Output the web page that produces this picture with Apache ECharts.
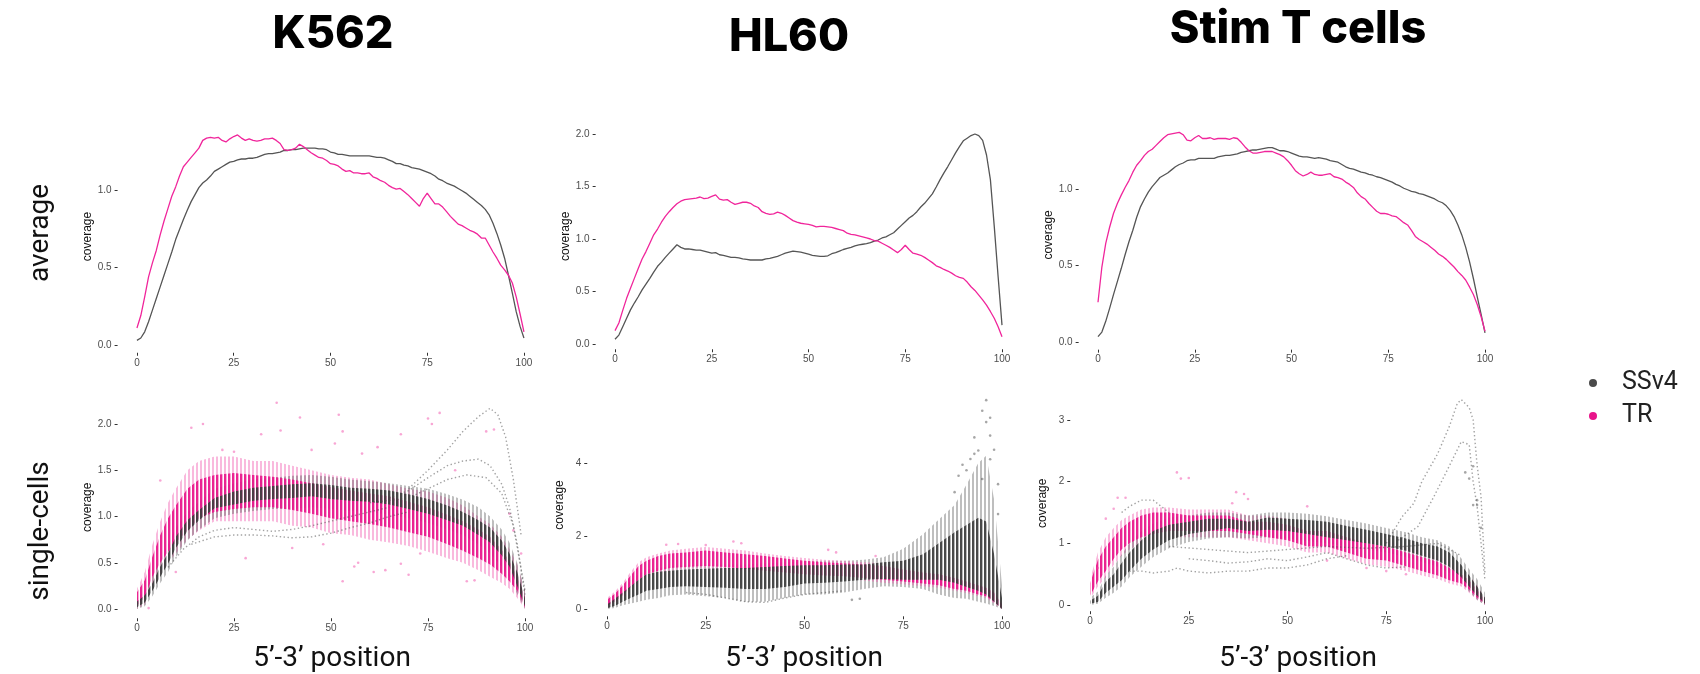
<!DOCTYPE html>
<html>
<head>
<meta charset="utf-8">
<script src="https://cdn.jsdelivr.net/npm/echarts@6/dist/echarts.min.js"></script>
<style>
  html, body { margin: 0; padding: 0; background: #fff; }
  #chart { width: 1700px; height: 674px; }
</style>
</head>
<body>
<div id="chart"></div>
<script>
// average coverage, one value per position 0..100
const k562AvgSS = [
  0.03,0.045,0.085,0.15,0.225,0.30,0.375,0.45,0.525,0.60,
  0.68,0.745,0.81,0.87,0.925,0.97,1.015,1.045,1.065,1.09,
  1.12,1.135,1.15,1.165,1.18,1.185,1.195,1.20,1.20,1.205,
  1.205,1.21,1.22,1.23,1.235,1.235,1.24,1.245,1.255,1.255,
  1.26,1.26,1.265,1.27,1.27,1.27,1.27,1.265,1.265,1.26,
  1.245,1.24,1.23,1.23,1.225,1.22,1.22,1.22,1.22,1.22,
  1.22,1.215,1.21,1.21,1.205,1.195,1.185,1.17,1.17,1.16,
  1.155,1.145,1.14,1.135,1.125,1.115,1.105,1.09,1.07,1.06,
  1.045,1.035,1.025,1.01,0.995,0.98,0.96,0.94,0.92,0.90,
  0.875,0.84,0.785,0.72,0.645,0.56,0.45,0.335,0.215,0.12,
  0.045];
const k562AvgTR = [
  0.11,0.19,0.31,0.44,0.53,0.61,0.71,0.80,0.88,0.96,
  1.02,1.09,1.15,1.18,1.21,1.24,1.27,1.32,1.335,1.34,
  1.335,1.34,1.32,1.31,1.33,1.345,1.355,1.335,1.32,1.33,
  1.32,1.315,1.32,1.33,1.33,1.335,1.32,1.30,1.26,1.255,
  1.26,1.27,1.295,1.28,1.26,1.24,1.225,1.21,1.205,1.19,
  1.17,1.165,1.155,1.135,1.12,1.125,1.11,1.11,1.105,1.105,
  1.11,1.085,1.075,1.06,1.05,1.03,1.015,1.005,1.01,0.99,
  0.97,0.945,0.92,0.895,0.945,0.98,0.945,0.91,0.91,0.89,
  0.86,0.83,0.805,0.78,0.77,0.755,0.74,0.73,0.715,0.69,
  0.69,0.645,0.60,0.56,0.515,0.485,0.45,0.40,0.31,0.20,
  0.085];
const hl60AvgSS = [
  0.045,0.085,0.165,0.245,0.325,0.39,0.45,0.515,0.57,0.625,
  0.685,0.74,0.78,0.825,0.865,0.905,0.945,0.92,0.905,0.905,
  0.90,0.895,0.895,0.885,0.875,0.865,0.87,0.85,0.845,0.835,
  0.825,0.825,0.82,0.81,0.805,0.80,0.80,0.80,0.80,0.81,
  0.815,0.825,0.835,0.85,0.865,0.875,0.885,0.88,0.875,0.865,
  0.855,0.845,0.84,0.835,0.835,0.84,0.86,0.87,0.885,0.90,
  0.91,0.92,0.935,0.945,0.95,0.955,0.965,0.98,0.99,1.01,
  1.02,1.04,1.06,1.095,1.13,1.165,1.20,1.225,1.26,1.305,
  1.34,1.385,1.43,1.495,1.565,1.63,1.69,1.755,1.82,1.88,
  1.935,1.96,1.985,2.00,1.985,1.94,1.80,1.565,1.12,0.64,
  0.18];
const hl60AvgTR = [
  0.127,0.20,0.32,0.435,0.53,0.625,0.72,0.81,0.88,0.96,
  1.04,1.095,1.16,1.215,1.26,1.30,1.335,1.36,1.375,1.38,
  1.385,1.39,1.40,1.385,1.39,1.405,1.42,1.38,1.37,1.375,
  1.35,1.33,1.34,1.35,1.35,1.34,1.315,1.30,1.26,1.245,
  1.235,1.24,1.255,1.245,1.225,1.20,1.175,1.16,1.15,1.145,
  1.14,1.13,1.115,1.12,1.12,1.115,1.11,1.10,1.09,1.08,
  1.055,1.045,1.04,1.03,1.02,1.01,1.00,0.985,0.98,0.96,
  0.94,0.92,0.895,0.87,0.90,0.94,0.90,0.865,0.855,0.845,
  0.825,0.80,0.775,0.745,0.73,0.71,0.695,0.675,0.65,0.635,
  0.625,0.59,0.545,0.51,0.465,0.42,0.37,0.31,0.245,0.165,
  0.07];
const stimAvgSS = [
  0.035,0.065,0.135,0.22,0.31,0.395,0.48,0.57,0.655,0.73,
  0.815,0.885,0.935,0.98,1.015,1.045,1.075,1.09,1.105,1.125,
  1.145,1.16,1.17,1.185,1.19,1.19,1.20,1.20,1.20,1.20,
  1.20,1.21,1.215,1.22,1.22,1.225,1.23,1.24,1.245,1.25,
  1.255,1.255,1.26,1.265,1.27,1.27,1.26,1.25,1.25,1.245,
  1.235,1.225,1.215,1.21,1.21,1.205,1.20,1.205,1.20,1.195,
  1.185,1.18,1.175,1.16,1.145,1.135,1.13,1.12,1.11,1.105,
  1.095,1.09,1.08,1.075,1.065,1.055,1.045,1.03,1.02,1.005,
  0.995,0.985,0.98,0.97,0.965,0.955,0.945,0.935,0.92,0.91,
  0.89,0.86,0.82,0.765,0.70,0.62,0.525,0.415,0.295,0.18,
  0.06];
const stimAvgTR = [
  0.26,0.49,0.645,0.75,0.84,0.905,0.96,1.01,1.055,1.11,
  1.155,1.185,1.22,1.245,1.26,1.285,1.31,1.335,1.355,1.36,
  1.365,1.37,1.355,1.32,1.315,1.335,1.35,1.33,1.33,1.335,
  1.325,1.33,1.33,1.33,1.325,1.335,1.33,1.305,1.275,1.25,
  1.235,1.235,1.24,1.245,1.245,1.245,1.235,1.225,1.21,1.185,
  1.155,1.12,1.10,1.085,1.095,1.11,1.095,1.09,1.09,1.095,
  1.10,1.08,1.075,1.065,1.045,1.03,1.01,0.975,0.95,0.935,
  0.905,0.88,0.855,0.84,0.84,0.835,0.825,0.82,0.80,0.78,
  0.765,0.73,0.69,0.67,0.655,0.64,0.62,0.60,0.575,0.56,
  0.54,0.515,0.49,0.46,0.435,0.405,0.36,0.31,0.245,0.165,
  0.07];

// single-cell spread: positions where the band edges were read
const bandPos = [0,2,4,6,8,10,13,16,20,25,30,35,40,45,50,55,60,65,70,75,80,84,88,91,94,96,98,100];

const k562SsCoreLo = [0.02,0.07,0.2,0.35,0.49,0.66,0.84,0.96,1.09,1.13,1.17,1.19,1.2,1.22,1.19,1.17,1.16,1.13,1.08,1.03,0.96,0.9,0.8,0.72,0.58,0.46,0.25,0.03];
const k562SsCoreHi = [0.08,0.15,0.28,0.46,0.6,0.78,0.96,1.07,1.2,1.27,1.31,1.33,1.35,1.36,1.34,1.31,1.3,1.28,1.24,1.19,1.12,1.05,0.96,0.88,0.74,0.6,0.4,0.12];
const k562SsOutLo = [0.0,0.03,0.14,0.28,0.4,0.56,0.74,0.86,0.98,1.03,1.06,1.08,1.08,1.1,1.08,1.06,1.05,1.02,0.98,0.93,0.86,0.8,0.7,0.6,0.46,0.34,0.16,0.0];
const k562SsOutHi = [0.12,0.2,0.35,0.55,0.7,0.88,1.05,1.16,1.3,1.36,1.4,1.42,1.44,1.45,1.43,1.4,1.38,1.36,1.33,1.3,1.24,1.18,1.1,1.0,0.86,0.72,0.5,0.2];
const k562TrCoreLo = [0.03,0.13,0.35,0.5,0.62,0.72,0.85,0.98,1.05,1.08,1.1,1.1,1.07,1.03,0.98,0.95,0.92,0.88,0.83,0.78,0.7,0.63,0.55,0.48,0.38,0.3,0.2,0.02];
const k562TrCoreHi = [0.18,0.31,0.57,0.8,0.98,1.12,1.3,1.4,1.45,1.47,1.45,1.43,1.4,1.36,1.32,1.28,1.25,1.22,1.16,1.1,1.02,0.95,0.86,0.78,0.64,0.52,0.35,0.12];
const k562TrOutLo = [0.0,0.05,0.25,0.38,0.5,0.6,0.75,0.85,0.95,0.95,0.95,0.95,0.9,0.88,0.82,0.8,0.75,0.72,0.68,0.62,0.55,0.5,0.42,0.35,0.28,0.22,0.12,0.0];
const k562TrOutHi = [0.22,0.4,0.7,0.95,1.15,1.3,1.5,1.6,1.65,1.65,1.6,1.6,1.55,1.5,1.45,1.42,1.4,1.35,1.3,1.27,1.2,1.12,1.0,0.92,0.78,0.65,0.48,0.2];

const hl60SsCoreLo = [0.02,0.08,0.2,0.3,0.4,0.5,0.55,0.6,0.62,0.6,0.58,0.55,0.55,0.6,0.7,0.72,0.75,0.8,0.82,0.8,0.8,0.8,0.72,0.6,0.5,0.4,0.2,0.0];
const hl60SsCoreHi = [0.12,0.28,0.45,0.62,0.8,0.95,1.02,1.05,1.08,1.1,1.12,1.12,1.15,1.18,1.2,1.2,1.22,1.22,1.28,1.32,1.5,1.8,2.1,2.3,2.5,2.4,1.5,0.3];
const hl60SsOutLo = [0.0,0.03,0.1,0.15,0.2,0.25,0.3,0.38,0.4,0.35,0.3,0.2,0.2,0.3,0.4,0.4,0.45,0.55,0.62,0.6,0.55,0.4,0.3,0.28,0.2,0.15,0.08,0.0];
const hl60SsOutHi = [0.2,0.38,0.58,0.78,0.95,1.08,1.12,1.18,1.2,1.22,1.22,1.22,1.25,1.28,1.3,1.32,1.32,1.35,1.42,1.65,2.05,2.45,2.85,3.4,4.0,4.2,3.0,0.65];
const hl60TrCoreLo = [0.08,0.2,0.38,0.6,0.8,0.95,1.05,1.12,1.15,1.18,1.15,1.1,1.05,1.0,0.95,0.92,0.9,0.85,0.8,0.75,0.7,0.65,0.55,0.5,0.4,0.35,0.2,0.02];
const hl60TrCoreHi = [0.25,0.42,0.65,0.92,1.18,1.32,1.45,1.52,1.55,1.6,1.55,1.5,1.45,1.38,1.32,1.28,1.25,1.22,1.18,1.08,1.0,0.95,0.85,0.75,0.65,0.58,0.45,0.12];
const hl60TrOutLo = [0.03,0.15,0.3,0.5,0.7,0.85,0.98,1.05,1.1,1.12,1.08,1.02,0.98,0.92,0.88,0.85,0.82,0.78,0.72,0.68,0.62,0.58,0.5,0.44,0.35,0.3,0.15,0.0];
const hl60TrOutHi = [0.3,0.48,0.72,1.02,1.28,1.42,1.52,1.6,1.65,1.7,1.65,1.6,1.52,1.45,1.4,1.35,1.32,1.28,1.25,1.15,1.05,1.0,0.9,0.8,0.7,0.62,0.5,0.15];

const stimSsCoreLo = [0.02,0.05,0.2,0.3,0.4,0.55,0.75,0.9,1.05,1.15,1.2,1.25,1.2,1.22,1.2,1.15,1.1,1.05,1.0,0.95,0.88,0.8,0.72,0.62,0.45,0.3,0.15,0.02];
const stimSsCoreHi = [0.07,0.15,0.38,0.5,0.68,0.85,1.05,1.2,1.3,1.35,1.4,1.4,1.35,1.42,1.4,1.38,1.35,1.28,1.22,1.15,1.08,1.0,0.95,0.85,0.65,0.48,0.3,0.12];
const stimSsOutLo = [0.0,0.02,0.12,0.2,0.3,0.45,0.62,0.78,0.92,1.02,1.08,1.1,1.08,1.1,1.08,1.04,1.0,0.95,0.9,0.85,0.78,0.7,0.62,0.52,0.36,0.22,0.08,0.0];
const stimSsOutHi = [0.12,0.22,0.48,0.62,0.82,1.0,1.2,1.32,1.42,1.45,1.5,1.5,1.45,1.5,1.5,1.48,1.44,1.38,1.32,1.25,1.18,1.1,1.05,0.95,0.76,0.58,0.42,0.2];
const stimTrCoreLo = [0.15,0.38,0.55,0.75,0.9,1.0,1.1,1.15,1.2,1.2,1.2,1.2,1.15,1.1,1.05,0.95,0.95,0.85,0.75,0.72,0.63,0.55,0.48,0.4,0.35,0.25,0.12,0.02];
const stimTrCoreHi = [0.35,0.73,0.95,1.1,1.25,1.35,1.45,1.5,1.5,1.45,1.45,1.45,1.35,1.35,1.3,1.2,1.2,1.1,1.0,0.95,0.85,0.78,0.7,0.6,0.5,0.4,0.25,0.08];
const stimTrOutLo = [0.1,0.3,0.45,0.65,0.8,0.9,1.0,1.05,1.1,1.1,1.1,1.1,1.05,1.0,0.95,0.85,0.85,0.75,0.66,0.62,0.55,0.48,0.42,0.35,0.3,0.2,0.08,0.0];
const stimTrOutHi = [0.42,0.85,1.1,1.25,1.38,1.45,1.55,1.58,1.58,1.55,1.55,1.55,1.45,1.45,1.4,1.3,1.3,1.2,1.1,1.05,0.95,0.88,0.8,0.7,0.58,0.48,0.32,0.12];

// individual off-trend SSv4 cells, [position, coverage]
const k562SsCells = [
  [[8,0.45],[12,0.65],[16,0.78],[20,0.85],[25,0.88],[30,0.86],[35,0.84],[40,0.86],[45,0.9],[50,0.95],[55,1.0],[60,1.05],[65,1.1]],
  [[14,0.7],[20,0.78],[25,0.8],[30,0.8],[35,0.79],[40,0.77],[45,0.78],[50,0.82],[55,0.88],[60,0.93],[65,1.0],[70,1.05]],
  [[65,1.2],[70,1.28],[75,1.42],[80,1.55],[84,1.6],[88,1.62],[91,1.55],[94,1.35],[96,1.1],[98,0.7],[100,0.15]],
  [[70,1.3],[75,1.5],[80,1.72],[84,1.92],[88,2.08],[91,2.17],[93,2.1],[95,1.86],[97,1.4],[99,0.8]],
  [[60,1.15],[70,1.2],[75,1.3],[80,1.4],[85,1.45],[90,1.42],[94,1.25],[97,0.9],[100,0.2]]
];
const hl60SsCells = [
  [[20,0.45],[25,0.4],[30,0.3],[35,0.2],[40,0.18],[45,0.3],[50,0.4],[55,0.45],[60,0.5]]
];
const stimSsCells = [
  [[10,0.55],[13,0.55],[16,0.52],[20,0.55],[22,0.6],[25,0.55],[30,0.52],[35,0.55],[40,0.55],[45,0.6],[50,0.6],[55,0.65],[60,0.75],[65,0.8]],
  [[25,0.75],[30,0.72],[35,0.68],[40,0.7],[45,0.75],[50,0.72],[55,0.78],[60,0.85],[65,0.75],[70,0.65],[75,0.6],[80,0.62]],
  [[20,0.95],[30,0.9],[40,0.85],[50,0.9],[60,0.95],[70,0.92],[80,0.95],[88,1.0],[94,0.8]],
  [[75,1.0],[79,1.43],[82,1.65],[84,2.0],[88,2.45],[91,2.9],[93,3.27],[94,3.33],[96,3.2],[97,3.0],[98,2.27],[99,1.75],[100,0.5]],
  [[78,1.05],[83,1.27],[87,1.75],[90,2.13],[94,2.65],[96,2.6],[97,2.0],[98,1.6],[100,0.4]],
  [[8,1.5],[10,1.6],[13,1.7],[16,1.7],[18,1.6],[20,1.5]]
];

// stray points
const k562TrStray = [[36,2.23],[17,2.0],[14,1.96],[42,2.07],[52,2.1],[32,1.89],[37,1.93],[75,2.06],[78,2.12],[76,2.0],[68,1.89],[53,1.92],[6,1.39],[28,0.55],[53,0.3],[56,0.46],[61,0.4],[64,0.42],[68,0.49],[70,0.37],[85,0.3],[87,0.31],[10,0.4],[3,0.01],[92,1.94],[90,1.92],[96,1.03],[97,0.85],[99,0.6],[51,1.79],[82,1.5],[40,0.66],[45,1.72],[58,1.68],[62,1.75],[22,1.72],[25,1.7],[48,0.7],[57,0.5],[73,0.6]];
const hl60TrStray = [[15,1.76],[18,1.78],[32,1.85],[34,1.8],[56,1.62],[25,1.75],[58,1.55],[68,1.45]];
const hl60SsStray = [[96,5.72],[95,5.43],[97,5.24],[96,5.12],[97,4.75],[93,4.7],[94,4.34],[98,4.36],[92,4.11],[90,3.95],[89,3.65],[99,3.42],[97,4.1],[95,3.56],[91,3.8],[93,4.25],[88,3.2],[99,2.6],[62,0.25],[64,0.28]];
const stimTrStray = [[22,2.15],[23,2.05],[25,2.06],[37,1.83],[39,1.8],[40,1.72],[7,1.74],[9,1.74],[55,1.6],[6,1.56],[4,1.4],[2,0.6],[36,1.65],[60,0.72],[70,0.6],[75,0.55],[80,0.5]];
const stimSsStray = [[97,1.62],[98,1.62],[97,2.25],[99,1.25],[98,1.7],[96,2.05],[95,2.15]];

const xTicks = [0, 25, 50, 75, 100];
const panelTitles = ['K562', 'HL60', 'Stim T cells'];

const GREY = '#555555';
const PINK = '#f0259b';

function pattern(color, w, h, rw, rh) {
  const c = document.createElement('canvas');
  c.width = w; c.height = h;
  const ctx = c.getContext('2d');
  ctx.fillStyle = color;
  ctx.fillRect(0, 0, rw, rh);
  return { image: c, repeat: 'repeat' };
}
const greyCoreFill = pattern('rgba(62,62,62,0.92)', 4, 2, 2.4, 2);
const greyOutFill = pattern('rgba(75,75,75,0.36)', 4, 2, 2, 2);
const pinkCoreFill = pattern('rgba(232,20,138,0.9)', 4, 2, 2.4, 2);
const pinkOutFill = pattern('rgba(240,80,170,0.4)', 4, 2, 2, 2);

// pixel layout of the six panels
const grids = [
  { left: 117.6, top: 120.25, width: 425.7, height: 232.5 },
  { left: 595.65, top: 123.5, width: 425.7, height: 225.75 },
  { left: 1078.65, top: 120.15, width: 425.7, height: 229.5 },
  { left: 117.6, top: 396.25, width: 426.8, height: 222 },
  { left: 587.25, top: 393.6, width: 434.5, height: 222.7 },
  { left: 1070.25, top: 395.3, width: 434.5, height: 215.9 }
];
const yRanges = [[-0.05, 1.45], [-0.05, 2.1], [-0.05, 1.45], [-0.1, 2.3], [-0.2, 5.9], [-0.1, 3.4]];
const yTicks = [[0, 0.5, 1], [0, 0.5, 1, 1.5, 2], [0, 0.5, 1], [0, 0.5, 1, 1.5, 2], [0, 2, 4], [0, 1, 2, 3]];
const yDigits = [1, 1, 1, 1, 0, 0];

const tickFont = { color: '#4d4d4d', fontSize: 10, fontFamily: 'Liberation Sans, Arial' };

const xAxis = grids.map((g, i) => ({
  type: 'value', gridIndex: i, min: -5, max: 105,
  axisLine: { show: false, onZero: false }, splitLine: { show: false },
  axisTick: { show: true, customValues: xTicks, length: 3, lineStyle: { color: '#333', width: 1 } },
  axisLabel: { customValues: xTicks, margin: 5, ...tickFont }
}));
const yAxis = grids.map((g, i) => ({
  type: 'value', gridIndex: i, min: yRanges[i][0], max: yRanges[i][1],
  name: 'coverage', nameLocation: 'middle', nameGap: 22,
  nameTextStyle: { color: '#111', fontSize: 12, fontFamily: 'Liberation Sans, Arial' },
  axisLine: { show: false, onZero: false }, splitLine: { show: false },
  axisTick: { show: true, customValues: yTicks[i], length: 3, lineStyle: { color: '#333', width: 1 } },
  axisLabel: { customValues: yTicks[i], margin: 6, formatter: v => v.toFixed(yDigits[i]), ...tickFont }
}));

function avgLine(idx, name, values, color) {
  return {
    type: 'line', name, xAxisIndex: idx, yAxisIndex: idx, silent: true,
    showSymbol: false, animation: false,
    lineStyle: { color, width: 1.3 },
    data: values.map((v, p) => [p, v])
  };
}

function band(idx, lo, hi, fill) {
  return {
    type: 'custom', xAxisIndex: idx, yAxisIndex: idx, silent: true, animation: false,
    data: [[50, 1]],
    renderItem: (params, api) => {
      const pts = [];
      bandPos.forEach((p, k) => pts.push(api.coord([p, hi[k]])));
      for (let k = bandPos.length - 1; k >= 0; k--) pts.push(api.coord([bandPos[k], lo[k]]));
      return { type: 'polygon', shape: { points: pts }, style: { fill } };
    }
  };
}

function cellLines(idx, cells) {
  return cells.map(c => ({
    type: 'line', xAxisIndex: idx, yAxisIndex: idx, silent: true, animation: false,
    showSymbol: false,
    lineStyle: { color: 'rgba(70,70,70,0.5)', width: 1.4, type: [1.4, 2.5] },
    data: c
  }));
}

function stray(idx, pts, color) {
  return {
    type: 'scatter', xAxisIndex: idx, yAxisIndex: idx, silent: true, animation: false,
    symbolSize: 2.6, itemStyle: { color }, data: pts
  };
}

const series = [
  avgLine(0, 'SSv4', k562AvgSS, GREY), avgLine(0, 'TR', k562AvgTR, PINK),
  avgLine(1, 'SSv4', hl60AvgSS, GREY), avgLine(1, 'TR', hl60AvgTR, PINK),
  avgLine(2, 'SSv4', stimAvgSS, GREY), avgLine(2, 'TR', stimAvgTR, PINK),

  band(3, k562TrOutLo, k562TrOutHi, pinkOutFill), band(3, k562SsOutLo, k562SsOutHi, greyOutFill),
  ...cellLines(3, k562SsCells),
  band(3, k562TrCoreLo, k562TrCoreHi, pinkCoreFill), band(3, k562SsCoreLo, k562SsCoreHi, greyCoreFill),
  stray(3, k562TrStray, 'rgba(240,70,165,0.6)'),

  band(4, hl60SsOutLo, hl60SsOutHi, greyOutFill), band(4, hl60TrOutLo, hl60TrOutHi, pinkOutFill),
  ...cellLines(4, hl60SsCells),
  band(4, hl60TrCoreLo, hl60TrCoreHi, pinkCoreFill), band(4, hl60SsCoreLo, hl60SsCoreHi, greyCoreFill),
  stray(4, hl60TrStray, 'rgba(240,70,165,0.6)'), stray(4, hl60SsStray, 'rgba(70,70,70,0.6)'),

  band(5, stimTrOutLo, stimTrOutHi, pinkOutFill), band(5, stimSsOutLo, stimSsOutHi, greyOutFill),
  ...cellLines(5, stimSsCells),
  band(5, stimTrCoreLo, stimTrCoreHi, pinkCoreFill), band(5, stimSsCoreLo, stimSsCoreHi, greyCoreFill),
  stray(5, stimTrStray, 'rgba(240,70,165,0.6)'), stray(5, stimSsStray, 'rgba(70,70,70,0.6)')
];

const titleStyle = { fontSize: 45, fontWeight: 800, fontFamily: 'Inter, Lato, sans-serif', fill: '#000', align: 'center', verticalAlign: 'middle' };
const bigFont = { fontSize: 28, fontFamily: 'Roboto, Liberation Sans, sans-serif', fill: '#111', align: 'center', verticalAlign: 'middle' };
const titleXY = [[333, 34], [789, 37], [1298, 29]];
const posX = [332, 804, 1298];

const graphic = [];
panelTitles.forEach((t, i) => graphic.push({ type: 'text', x: titleXY[i][0], y: titleXY[i][1], style: { text: t, ...titleStyle } }));
posX.forEach(x => graphic.push({ type: 'text', x, y: 659, style: { text: '5’-3’ position', ...bigFont } }));
graphic.push({ type: 'text', x: 41, y: 233, rotation: Math.PI / 2, style: { text: 'average', ...bigFont } });
graphic.push({ type: 'text', x: 41, y: 531, rotation: Math.PI / 2, style: { text: 'single-cells', ...bigFont } });
// legend
graphic.push({ type: 'circle', shape: { cx: 1593, cy: 383, r: 4 }, style: { fill: '#4a4a4a' } });
graphic.push({ type: 'circle', shape: { cx: 1593, cy: 416, r: 4 }, style: { fill: '#e8148a' } });
graphic.push({ type: 'text', x: 1622, y: 383, style: { text: 'SSv4', fontSize: 25, fontFamily: 'Roboto, sans-serif', fill: '#222', verticalAlign: 'middle' } });
graphic.push({ type: 'text', x: 1622, y: 416, style: { text: 'TR', fontSize: 25, fontFamily: 'Roboto, sans-serif', fill: '#222', verticalAlign: 'middle' } });

const myChart = echarts.init(document.getElementById('chart'));
myChart.setOption({
  backgroundColor: '#fff',
  animation: false,
  grid: grids,
  xAxis,
  yAxis,
  series,
  graphic
});
</script>
</body>
</html>
